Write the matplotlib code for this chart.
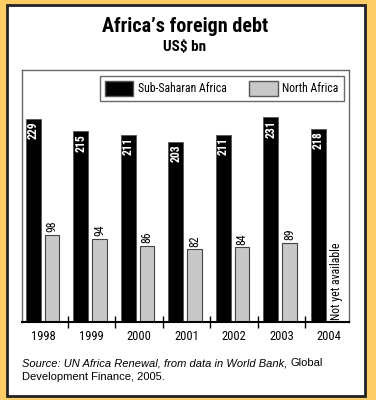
import matplotlib.pyplot as plt
import matplotlib.patches as mpatches
from matplotlib import font_manager
import numpy as np

years = ["1998", "1999", "2000", "2001", "2002", "2003", "2004"]
sub_saharan = [229, 215, 211, 203, 211, 231, 218]
north_africa = [98, 94, 86, 82, 84, 89, None]

ORANGE = "#FFCC66"
GRAY = "#C8C8C8"

names = {f.name for f in font_manager.fontManager.ttflist}
narrow = "Liberation Sans"
for cand in ["Liberation Sans Narrow", "Roboto Condensed", "Open Sans Condensed"]:
    if cand in names:
        narrow = cand
        break

W, H = 376, 400
fig = plt.figure(figsize=(W / 100, H / 100), dpi=100, facecolor=ORANGE)

# white panel with dark border
panel = mpatches.Rectangle((7 / W, 1 - 396 / H), 358 / W, 391 / H, transform=fig.transFigure,
                           facecolor="white", edgecolor="#222222", linewidth=2, zorder=-10)
fig.patches.append(panel)

fig.text(185 / W, 1 - 26 / H, "Africa\u2019s foreign debt", ha="center", va="center",
         fontsize=14.5, fontweight="heavy", family=narrow)
fig.text(185 / W, 1 - 47 / H, "US$ bn", ha="center", va="center",
         fontsize=11, fontweight="heavy", family=narrow)

ax = fig.add_axes([22 / W, 1 - 322 / H, 327 / W, 252 / H])
ax.set_facecolor("white")
x = np.arange(len(years))

ax.bar(x - 0.225, sub_saharan, width=0.32, color="black", edgecolor="#555555", linewidth=0.6)
na_x = [xi for xi, v in zip(x, north_africa) if v is not None]
na_v = [v for v in north_africa if v is not None]
ax.bar(np.array(na_x) + 0.17, na_v, width=0.30, color=GRAY, edgecolor="#444444", linewidth=0.8)

for xi, v in zip(x, sub_saharan):
    ax.text(xi - 0.225, v - 3, str(v), rotation=90, ha="center", va="top", color="white",
            fontsize=8.5, fontweight="bold", family=narrow)
for xi, v in zip(na_x, na_v):
    ax.text(xi + 0.17, v + 3, str(v), rotation=90, ha="center", va="bottom", color="black",
            fontsize=8.5, family=narrow)
ax.text(6 + 0.15, 2, "Not yet available", rotation=90, ha="center", va="bottom",
        fontsize=8.5, family=narrow)

ax.set_xlim(-0.46, 6.42)
ax.set_ylim(0, 284)
ax.set_yticks([])
ax.set_xticks(x)
ax.set_xticklabels(years, fontsize=9, family=narrow)
ax.tick_params(axis="x", which="major", length=0, pad=6)
ax.set_xticks(x[:6] + 0.5, minor=True)
ax.tick_params(axis="x", which="minor", length=9, direction="inout", width=1, color="black")

for s in ["left", "top", "right"]:
    ax.spines[s].set_color("#666666")
    ax.spines[s].set_linewidth(1)
ax.spines["bottom"].set_color("black")
ax.spines["bottom"].set_linewidth(1.5)

handles = [mpatches.Patch(facecolor="black", edgecolor="#555555", label="Sub-Saharan Africa"),
           mpatches.Patch(facecolor=GRAY, edgecolor="#555555", label="North Africa")]
leg = ax.legend(handles=handles, ncol=2, loc="upper right", bbox_to_anchor=(0.985, 0.976),
                frameon=True, fancybox=False, edgecolor="#444444", handlelength=2.4,
                handleheight=1.5, handletextpad=0.4, columnspacing=1.9, borderpad=0.45,
                borderaxespad=0, prop={"family": narrow, "size": 8.5})
leg.get_frame().set_linewidth(1)

# source line: italic part followed by upright "Global"
src = fig.text(22 / W, 1 - 363 / H, "Source: UN Africa Renewal, from data in World Bank,",
               fontsize=8, style="italic", va="center", family="Liberation Sans")
fig.canvas.draw()
bb = src.get_window_extent()
fig.text(bb.x1 / W + 3 / W, 1 - 363 / H, "Global", fontsize=8, va="center",
         family="Liberation Sans")
fig.text(22 / W, 1 - 377 / H, "Development Finance, 2005.", fontsize=8, va="center",
         family="Liberation Sans")

fig.savefig("out.png", dpi=100, facecolor=ORANGE)
